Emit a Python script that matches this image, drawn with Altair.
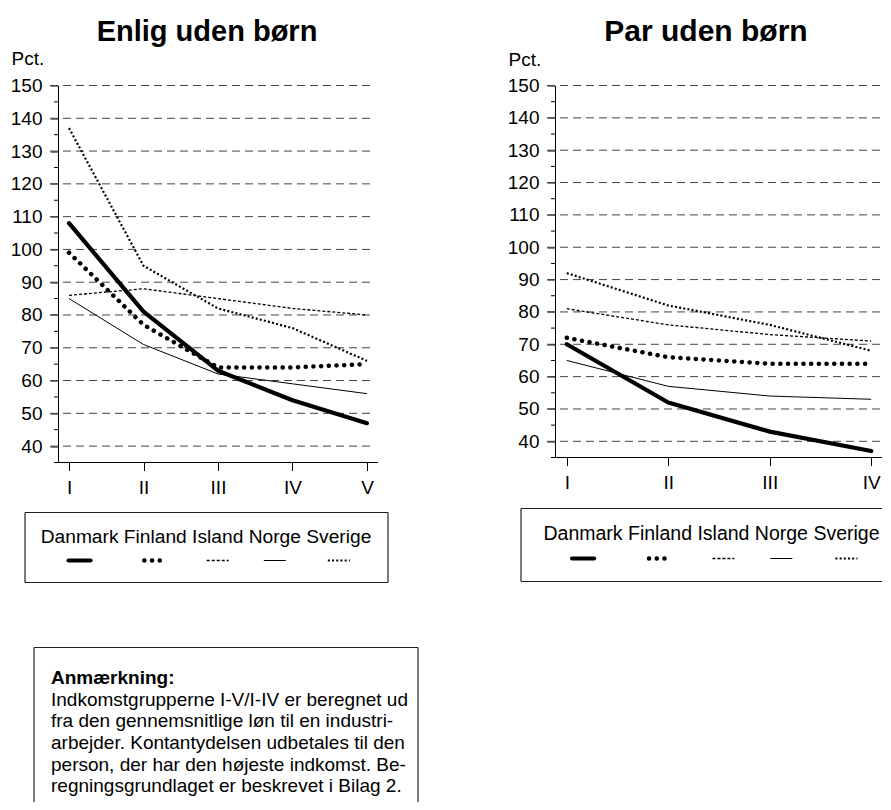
import altair as alt
import pandas as pd

FONT = "Liberation Sans"

# ---------------- data ----------------
groups_enlig = ["I", "II", "III", "IV", "V"]
groups_par = ["I", "II", "III", "IV"]
countries = ["Danmark", "Finland", "Island", "Norge", "Sverige"]

enlig_danmark = [108, 81, 63, 54, 47]
enlig_finland = [99, 77, 64, 64, 65]
enlig_island = [86, 88, 85, 82, 80]
enlig_norge = [85, 71, 62, 59, 56]
enlig_sverige = [137, 95, 82, 76, 66]

par_danmark = [70, 52, 43, 37]
par_finland = [72, 66, 64, 64]
par_island = [81, 76, 73, 71]
par_norge = [65, 57, 54, 53]
par_sverige = [92, 82, 76, 68]

y_major = [40, 50, 60, 70, 80, 90, 100, 110, 120, 130, 140, 150]
y_minor = [45, 55, 65, 75, 85, 95, 105, 115, 125, 135, 145]
y_domain = [35, 150]

panel_titles = ["Enlig uden børn", "Par uden børn"]
y_title = "Pct."
note_heading = "Anmærkning:"
note_lines = [
    "Indkomstgrupperne I-V/I-IV er beregnet ud",
    "fra den gennemsnitlige løn til en industri-",
    "arbejder. Kontantydelsen udbetales til den",
    "person, der har den højeste indkomst. Be-",
    "regningsgrundlaget er beskrevet i Bilag 2.",
]

# ---------------- styles ----------------
STYLE = {
    "Danmark": dict(strokeWidth=4.2, strokeCap="round"),
    "Finland": dict(strokeWidth=4.5, strokeDash=[0.1, 7.6], strokeCap="round"),
    "Island": dict(strokeWidth=1.3, strokeDash=[3, 2]),
    "Norge": dict(strokeWidth=1),
    "Sverige": dict(strokeWidth=2.2, strokeDash=[2, 2.2]),
}
FS = 19
BOX = dict(color="#222", strokeWidth=1.2)

# approximate Arial/Liberation Sans advance widths (em) for legend symbol placement
GLYPH_EM = {" ": 0.278, "D": 0.722, "a": 0.556, "n": 0.556, "m": 0.833, "r": 0.333,
            "k": 0.5, "F": 0.611, "i": 0.222, "l": 0.222, "d": 0.556, "I": 0.278,
            "s": 0.5, "N": 0.722, "o": 0.556, "g": 0.556, "e": 0.556, "S": 0.667,
            "v": 0.5}


def em_width(s):
    return sum(GLYPH_EM.get(ch, 0.55) for ch in s)


legend_label = " ".join(countries)


def legend_frame(center_x, fs, half_len=11):
    total = em_width(legend_label)
    start = center_x - total * fs / 2
    rows, off = [], 0.0
    for c in countries:
        w = em_width(c)
        mid = start + (off + w / 2) * fs
        rows.append({"country": c, "lx": mid - half_len, "lx2": mid + half_len})
        off += w + em_width(" ")
    return pd.DataFrame(rows)


def one():
    return pd.DataFrame({"k": [0]})


def hline(x1, x2, yv):
    return alt.Chart(one()).mark_rule(**BOX).encode(
        x=alt.value(x1), x2=alt.value(x2), y=alt.value(yv))


def vline(xv, y1, y2):
    return alt.Chart(one()).mark_rule(**BOX).encode(
        x=alt.value(xv), y=alt.value(y1), y2=alt.value(y2))


def panel(title, groups, series, width, height, pad, title_dx, title_fs, pct_x, pct_y,
          grid_x2, box_edges, text_cx, text_y, sym_y, legend_fs, with_note=False):
    df = pd.DataFrame([
        {"group": g, "country": c, "value": v}
        for c, vals in zip(countries, series) for g, v in zip(groups, vals)
    ])
    x = alt.X("group:N", sort=groups, scale=alt.Scale(type="point", padding=pad),
              axis=alt.Axis(title=None, labelAngle=0, labelFont=FONT, labelFontSize=FS,
                            labelColor="black", tickColor="black", tickSize=8,
                            labelPadding=8, domain=False, grid=False))
    y = alt.Y("value:Q", scale=alt.Scale(domain=y_domain, nice=False, zero=False),
              axis=alt.Axis(values=y_major, title=y_title, titleAngle=0, titleAlign="left",
                            titleBaseline="alphabetic", titleX=pct_x, titleY=pct_y,
                            titleFont=FONT, titleFontSize=FS, titleFontWeight="normal",
                            titleColor="black", labelFont=FONT, labelFontSize=FS,
                            labelColor="black", tickColor="black", tickSize=8,
                            domainColor="black", labelPadding=8, grid=False))

    layers = []
    layers.append(alt.Chart(pd.DataFrame({"value": y_major}))
                  .mark_rule(color="#444", strokeWidth=1, strokeDash=[8, 5])
                  .encode(y=y, x=alt.value(-8), x2=alt.value(grid_x2)))
    layers.append(alt.Chart(pd.DataFrame({"value": y_minor}))
                  .mark_rule(color="black", strokeWidth=1)
                  .encode(y=y, x=alt.value(-4), x2=alt.value(0)))
    layers.append(alt.Chart(one()).mark_rule(color="black", strokeWidth=1)
                  .encode(y=alt.value(height), x=alt.value(-4), x2=alt.value(grid_x2 + 5)))
    for c in countries:
        layers.append(alt.Chart(df).transform_filter(alt.datum.country == c)
                      .mark_line(color="black", strokeJoin="round", **STYLE[c])
                      .encode(x=x, y=y))

    bx1, bx2, by1, by2 = box_edges
    layers.append(hline(bx1, bx2, by1))
    layers.append(hline(bx1, bx2, by2))
    layers.append(vline(bx1, by1, by2))
    layers.append(vline(bx2, by1, by2))
    layers.append(alt.Chart(pd.DataFrame({"t": [legend_label]}))
                  .mark_text(font=FONT, fontSize=legend_fs, align="center",
                             baseline="alphabetic", color="black")
                  .encode(text="t:N", x=alt.value(text_cx), y=alt.value(text_y)))
    ldf = legend_frame(text_cx, legend_fs)
    for c in countries:
        layers.append(alt.Chart(ldf).transform_filter(alt.datum.country == c)
                      .mark_rule(color="black", **STYLE[c])
                      .encode(x=alt.X("lx:Q", scale=None, axis=None), x2="lx2:Q",
                              y=alt.value(sym_y)))

    if with_note:
        layers.append(hline(-24, 360, 562))
        layers.append(hline(-24, 360, 735))
        layers.append(vline(-24, 562, 735))
        layers.append(vline(360, 562, 735))
        layers.append(alt.Chart(pd.DataFrame({"t": [note_heading]}))
                      .mark_text(font=FONT, fontSize=FS, fontWeight="bold", align="left",
                                 baseline="alphabetic", color="black")
                      .encode(text="t:N", x=alt.value(-7), y=alt.value(598)))
        layers.append(alt.Chart(pd.DataFrame({"t": ["\n".join(note_lines)]}))
                      .mark_text(font=FONT, fontSize=FS, align="left", baseline="alphabetic",
                                 color="black", lineBreak="\n", lineHeight=21.7)
                      .encode(text="t:N", x=alt.value(-7), y=alt.value(620)))

    return alt.layer(*layers).properties(
        width=width, height=height,
        title=alt.TitleParams(title, font=FONT, fontSize=title_fs, fontWeight="bold",
                              color="black", anchor="middle", frame="group",
                              dx=title_dx, offset=-20.5, baseline="alphabetic"))


left = panel(panel_titles[0], groups_enlig,
             [enlig_danmark, enlig_finland, enlig_island, enlig_norge, enlig_sverige],
             width=320, height=377, pad=0.148,
             title_dx=-11, title_fs=29, pct_x=-47, pct_y=-21,
             grid_x2=315, box_edges=(-33, 330, 427, 497),
             text_cx=148, text_y=457, sym_y=475, legend_fs=19.2, with_note=True)

right = panel(panel_titles[1], groups_par,
              [par_danmark, par_finland, par_island, par_norge, par_sverige],
              width=328, height=372, pad=0.116,
              title_dx=-13, title_fs=30, pct_x=-47, pct_y=-20,
              grid_x2=345, box_edges=(-34, 344, 423, 496),
              text_cx=156.5, text_y=454, sym_y=473, legend_fs=19.5)

# negative right/bottom padding crops the drawing at the page edge like the original
chart = (alt.hconcat(left, right, spacing=88)
         .properties(padding={"left": 2, "top": 8.5, "right": -24, "bottom": -20},
                     background="white")
         .configure_view(stroke=None))

chart.save("out.html", embed_options={"renderer": "svg", "actions": False})
